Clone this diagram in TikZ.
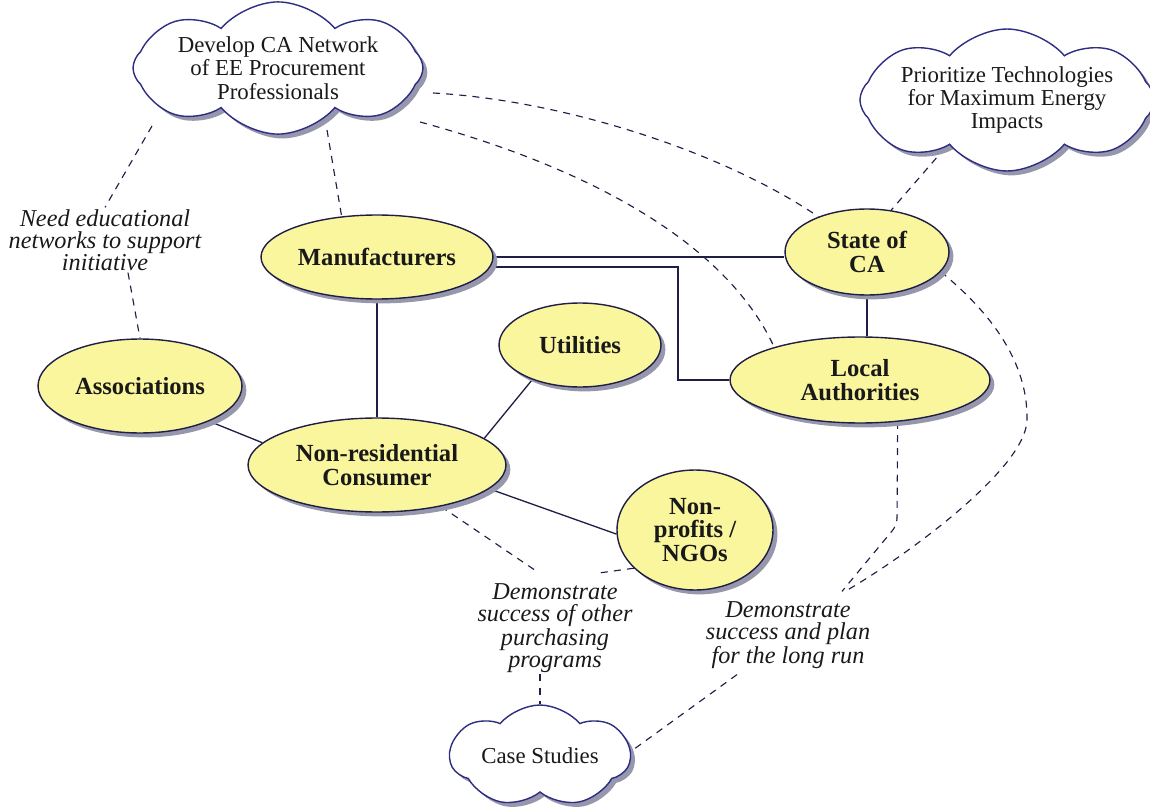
\documentclass[tikz,border=0pt]{standalone}
\usepackage{fontspec}
\setmainfont{Liberation Serif}
\usetikzlibrary{shapes.geometric,shapes.symbols,shadows,calc}
\definecolor{ovalfill}{RGB}{250,246,158}
\definecolor{inkline}{RGB}{30,30,70}
\definecolor{cloudline}{RGB}{45,45,130}
\definecolor{shade}{RGB}{150,150,172}
\definecolor{txt}{RGB}{25,25,25}
\pgfdeclarelayer{links}
\pgfsetlayers{links,main}
\begin{document}
\begin{tikzpicture}[x=0.02cm,y=-0.02cm,
  oval/.style={ellipse, draw=inkline, line width=0.8pt, fill=ovalfill,
    inner sep=0pt, align=center, text=txt,
    font=\fontsize{14}{13.5}\selectfont\bfseries,
    drop shadow={shadow xshift=2.5pt, shadow yshift=-2.5pt, fill=shade, opacity=1}},
  puff/.style={cloud, cloud puffs=8, cloud puff arc=100, cloud ignores aspect,
    draw=cloudline, line width=0.8pt, fill=white, inner sep=0pt,
    align=center, text=txt, font=\fontsize{13}{13.2}\selectfont,
    drop shadow={shadow xshift=2.5pt, shadow yshift=-2.5pt, fill=shade, opacity=1}},
  note/.style={align=center, text=txt, inner sep=1pt,
    font=\fontsize{13.8}{12.5}\selectfont\itshape},
  link/.style={draw=inkline, line width=0.75pt},
  hint/.style={draw=inkline, line width=0.65pt, dash pattern=on 4pt off 3.5pt},
]
\useasboundingbox (0,0) rectangle (1150,811);

% clouds
\node[puff, minimum width=5.8cm, minimum height=2.4cm] (c1) at (278,68)
  {Develop CA Network\\of EE Procurement\\Professionals};
\node[puff, minimum width=5.0cm, minimum height=2.84cm] (c2) at (1007,100)
  {Prioritize Technologies\\for Maximum Energy\\Impacts};
\node[puff, cloud puffs=7, minimum width=3.6cm, minimum height=2.04cm] (c3) at (540,756)
  {Case Studies};

% stakeholders
\node[oval, minimum width=4.64cm, minimum height=1.68cm] (man) at (377,257) {Manufacturers};
\node[oval, minimum width=3.28cm, minimum height=1.72cm] (state) at (867,252) {State of\\CA};
\node[oval, minimum width=5.2cm, minimum height=1.72cm] (local) at (860,380) {Local\\Authorities};
\node[oval, minimum width=4.08cm, minimum height=1.88cm] (assoc) at (140,386) {Associations};
\node[oval, minimum width=3.24cm, minimum height=1.68cm] (util) at (580,345) {Utilities};
\node[oval, minimum width=5.16cm, minimum height=1.88cm] (nonres) at (377,465) {Non-residential\\Consumer};
\node[oval, minimum width=3.12cm, minimum height=2.4cm] (ngo) at (695,530) {Non-\\profits /\\NGOs};

% notes
\node[note] (need) at (105,240) {Need educational\\networks to support\\initiative};
\node[note] (lab1) at (555,628) {Demonstrate\\success of other\\purchasing\\programs};
\node[note] (lab2) at (788,635) {Demonstrate\\success and plan\\for the long run};

\begin{pgfonlayer}{links}
% solid relations
\coordinate (elb) at (678,380);
\draw[link] (man.east) -- (man.east -| state.west);
\draw[link] (man.-5.6) -| (elb) -- (local.west);
\draw[link] (state.south) -- (state.south |- local.north);
\draw[link] (man.south) -- (nonres.north);
\draw[link] (assoc.-27.6) -- (nonres.169);
\draw[link] (util.216.7) -- (nonres.14.5);
\draw[link] (nonres.-12.7) -- (ngo.183);

% dashed relations
\draw[hint] ($(c1)+(-126,58)$) -- (need.north);
\draw[hint] ($(need.south)+(23,0)$) -- (assoc.north);
\draw[hint] ($(c1)+(49,62)$) -- (man.131);
\draw[hint] ($(c1)+(155,25)$) .. controls (560,100) and (720,150) .. (state.144.8);
\draw[hint] ($(c1)+(142,54)$) .. controls (560,160) and (720,230) .. (local.159);
\draw[hint] ($(c2)+(-62,48)$) -- (state.60);
\draw[hint] (state.-15) .. controls (1000,320) and (1028,370) .. (1027,420)
  .. controls (1026,470) and (900,560) .. ($(lab2.north)+(57,-8)$);
\draw[hint, rounded corners=4pt] (local.-48.1) -- (897,525) -- ($(lab2.north)+(54,-8)$);
\draw[hint] ($(lab2.south)+(-51,4)$) -- (c3.3);
\draw[hint] (nonres.-33) -- ($(lab1.north)+(-18,-10)$);
\draw[hint] (ngo.212) -- ($(lab1.north)+(40,-8)$);
\draw[hint] (c3.north |- lab1.south) -- (c3.north);
\end{pgfonlayer}
\end{tikzpicture}
\end{document}
